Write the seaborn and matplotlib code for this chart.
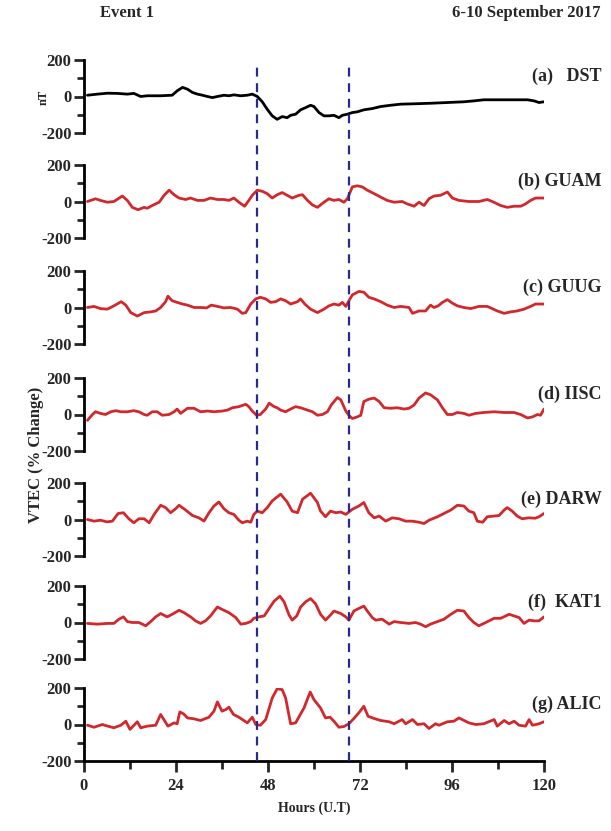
import numpy as np
import pandas as pd
import matplotlib
matplotlib.use("Agg")
import matplotlib.pyplot as plt
import seaborn as sns

# ---------------- data ----------------
dst_h = [0.9, 3.5, 6.1, 8.7, 11.3, 13, 14.8, 16.5, 20, 23, 24.3, 25.7, 27, 28.3, 29.6, 30.9, 32.2, 33.5,
         34.8, 36.5, 37.8, 39.1, 40.9, 42.6, 43.9, 45.2, 46.5, 47.8, 49.1, 50.4, 51.7, 53, 53.9, 55.2,
         56.5, 57.8, 59.1, 60, 61.3, 62.6, 63.9, 65.2, 66.5, 67.4, 68.7, 70, 71.3, 73, 75.2, 77.4, 80,
         82.6, 86.1, 90.4, 94.8, 99.1, 101.7, 104.3, 107.8, 112.2, 115.7, 117.4, 118.7, 120]
dst_v = [7, 13, 18, 17, 13, 17, 0, 4, 4, 7, 31, 50, 40, 22, 13, 7, 0, -6,
         0, 7, 4, 9, 4, 7, 13, 0, -29, -70, -106, -125, -110, -116, -103, -97,
         -73, -61, -48, -55, -88, -106, -106, -103, -116, -103, -97, -88, -84, -73, -66, -55, -48,
         -42, -40, -37, -33, -29, -24, -18, -18, -18, -18, -24, -33, -29]

guam_h = [0.9, 3, 4.3, 6.1, 7.8, 10, 11.3, 12.6, 14.1, 15.7, 16.5, 17.8, 19.6, 20.9, 22.2, 23.5, 24.8,
          26.5, 27.8, 29.6, 31.3, 33, 34.8, 36.5, 37.8, 39.1, 40.4, 41.9, 43, 43.9, 45.2, 46.5, 47.8,
          49.1, 50.4, 51.7, 53, 54.3, 56.1, 57, 58.3, 59.6, 60.9, 62.6, 63.9, 65.2, 66.5, 67.8, 68.7,
          70, 71.3, 72.6, 73.9, 75.7, 77.4, 79.1, 80.9, 83, 84.3, 86.1, 87.4, 88.7, 90, 91.3, 93, 94.8,
          96.1, 97.8, 100.4, 103, 105.2, 106.5, 108.7, 110.4, 112.2, 113.9, 115.2, 116.5, 117.8, 120]
guam_v = [0, 15, 6, -4, 0, 30, 6, -32, -45, -32, -37, -22, -4, 34, 62, 37, 19,
          11, 19, 6, 6, 19, 11, 11, 6, 19, -4, -26, 6, 34, 62, 56, 43,
          19, 37, 49, 34, 19, 34, 37, 6, -19, -32, -4, 15, 6, 11, -4, 15,
          80, 86, 80, 62, 43, 24, 6, -4, 0, -13, -26, -4, -22, 15, 30, 34, 52,
          19, 6, 0, 0, 11, 0, -22, -32, -26, -26, -13, 6, 19, 19]

guug_h = [0.9, 2.6, 4.3, 6.1, 7.8, 9.7, 10.9, 12.2, 13.9, 15.7, 17.4, 18.7, 20, 21.3, 21.9, 23, 24.3,
          25.7, 27, 28.7, 30.4, 32, 33.2, 34.8, 36.5, 38.3, 40, 41.3, 42.2, 43.5, 44.8, 46, 47.4, 48.7,
          50, 51.3, 52.6, 53.9, 55.7, 56.5, 57.6, 59.1, 60.9, 62.6, 63.9, 65.2, 66.5, 67.4, 68.3, 69.1,
          70, 71.7, 73, 74.3, 75.7, 77.4, 79.1, 80.9, 82.6, 84.8, 85.7, 87.4, 89.1, 90.4, 91.3, 92.4,
          93.5, 94.8, 96.1, 97.4, 99.1, 100.9, 103, 105.2, 106.5, 107.8, 109.6, 111.3, 113, 114.8,
          116.5, 117.8, 120]
guug_v = [0, 6, -6, -9, 9, 32, 13, -28, -47, -28, -24, -19, 0, 32, 62, 37, 28,
          19, 13, 0, 0, -2, 13, 6, -2, 0, -9, -32, -28, 19, 47, 56, 47, 28,
          32, 47, 37, 19, 32, 47, 19, -9, -28, -9, 9, 19, 13, 28, 6, 37,
          69, 88, 84, 56, 47, 32, 13, 0, 6, 0, -32, -19, -19, 13, 0, 9,
          28, 43, 24, 9, 0, -6, 6, 6, -6, -19, -32, -24, -19, -9,
          6, 19, 19]

iisc_h = [0.9, 2.2, 3, 4.3, 5.6, 7, 8.3, 9.6, 11.3, 13, 14.3, 15.7, 16.5, 17.8, 19.1, 20.4, 22.2,
          23.5, 24.3, 25.2, 27, 28.7, 30.4, 32.2, 33.9, 36.1, 37.4, 38.7, 40.4, 42.2, 43, 43.9, 45,
          46, 47.4, 48.3, 49.6, 50.4, 51.3, 52.6, 53.9, 55.2, 56.5, 58.3, 59.6, 60.9, 62.2, 63.5,
          64.5, 66.1, 67, 68.3, 69.1, 70, 71.3, 72.2, 73, 74.3, 75.7, 77, 78.3, 80, 81.7, 83.5, 84.8,
          86.1, 87.4, 89.1, 90.4, 92.2, 93.5, 94.8, 96.1, 97.4, 99.1, 100.4, 102.2, 104.3, 107,
          109.6, 112.2, 113.9, 115.7, 117, 118.3, 119.1, 120]
iisc_v = [-32, 0, 15, 6, 0, 15, 21, 15, 15, 21, 15, 0, -4, 15, 15, -4, 0,
          15, 30, 6, 34, 34, 15, 19, 15, 19, 24, 37, 43, 56, 43, 19, -4,
          0, 30, 62, 43, 37, 24, 15, 30, 43, 37, 24, 15, -4, 0, 15,
          52, 93, 80, 19, -4, -22, -13, -4, 71, 84, 90, 71, 37, 34, 37, 30, 34,
          52, 90, 118, 108, 80, 37, 0, 0, 11, 6, -4, 6, 11, 15,
          11, 11, 0, -19, -13, 0, -4, 30]

darw_h = [0.9, 2.6, 4.3, 6, 7.4, 8.9, 10.3, 11.7, 13, 14.3, 15.7, 17, 18.3, 20, 21.3, 22.6, 23.9,
          24.8, 26.5, 28.3, 30, 31.3, 32.6, 33.9, 35.2, 36.5, 37.8, 39.1, 40.4, 41.3, 42.6, 43.5,
          44.3, 45.2, 46.5, 47.8, 49.1, 51.3, 53, 54.3, 55.7, 57, 59.1, 60.9, 61.7, 63, 64.3, 65.7,
          67, 68.3, 69.1, 70, 71.7, 73, 74.3, 75.7, 77, 78.7, 80.4, 82.2, 83.9, 85.6, 87.4, 88.7, 90,
          92.2, 93.9, 95.7, 97.4, 99.1, 100.4, 101.7, 102.6, 104, 105.2, 107, 108.3, 109.6, 110.4,
          111.7, 113, 114.3, 116, 117.7, 118.7, 120]
darw_v = [0, -9, -4, -13, -9, 33, 37, 4, -18, 4, 4, -18, 28, 78, 65, 37, 59,
          78, 52, 22, 9, -9, 37, 74, 96, 59, 37, 28, -4, -18, -9, -15,
          28, 46, 37, 65, 102, 139, 96, 46, 37, 111, 144, 93, 46, 15, 46, 37,
          41, 28, 41, 56, 74, 93, 37, 9, 19, -9, 9, 4, -9, -9, -15, -22, -4,
          15, 33, 52, 78, 74, 46, 37, -9, -15, 15, 19, 22, 52, 65,
          46, 19, 4, 9, 7, 15, 33]

kat1_h = [0.9, 3.5, 6.1, 7.8, 9.1, 10.3, 11.3, 12.6, 14.3, 16.1, 17.4, 18.7, 20, 21.7, 23, 24.8,
          26.1, 27.8, 29.1, 30.4, 31.7, 33, 34.8, 36, 37.8, 39.6, 40.9, 42.2, 43.5, 44.3, 45.7, 47,
          48.3, 49.6, 51.1, 52.2, 53.5, 54.3, 55.5, 56.5, 57.8, 59.1, 60.4, 61.7, 63, 64.3, 65.2, 67,
          68.3, 69.1, 70.4, 71.7, 73, 73.9, 75.2, 76.1, 77.8, 79.6, 80.9, 82.6, 84.8, 86.5, 87.8,
          89.1, 90.4, 92.2, 93.9, 95.7, 97.4, 99.1, 100.4, 101.7, 103, 104.8, 107, 108.7, 110.9,
          112.2, 113.5, 114.8, 116.1, 117.4, 118.7, 120]
kat1_v = [-5, -9, -5, -5, 18, 31, 5, 0, 0, -18, 5, 31, 49, 31, 45, 67,
          54, 31, 9, -5, 9, 36, 85, 72, 54, 27, -9, -5, 5, 23, 31, 36,
          77, 117, 144, 113, 41, 13, 36, 85, 113, 131, 103, 45, 13, 41, 63, 49,
          31, 13, 63, 77, 90, 63, 27, 13, 18, -9, 5, 0, -5, 0, -9,
          -23, -9, 5, 18, 45, 67, 63, 27, 0, -18, 0, 23, 23, 45,
          36, 27, -5, 13, 9, 9, 31]

alic_h = [0.9, 2.6, 4.8, 5.7, 7.8, 9.6, 10.9, 12, 13.9, 14.8, 16.5, 18.7, 20, 21.9, 23.5, 24.3, 25,
          26, 27, 28.7, 30.4, 32.6, 33.9, 34.8, 36, 37, 37.8, 39, 40.4, 42.6, 43.9, 44.8, 46, 47.4,
          49.1, 50.4, 51.7, 52.6, 53.9, 55.2, 57.4, 59, 60, 61.7, 63, 64.2, 65.2, 66.5, 67.8, 69.1,
          70.4, 71.7, 73, 74.1, 75.7, 77.4, 79.6, 80.9, 83, 83.9, 85.7, 87, 88.7, 90, 91.7, 92.6,
          94.8, 96.5, 97.8, 100.4, 102.2, 104.3, 107, 107.8, 109.6, 110.9, 112.2, 113.5, 115.2,
          116.1, 117, 118.7, 120]
alic_v = [-4, -15, 0, -6, -18, -4, 18, -27, 15, -18, -9, -4, 55, -9, 9, 4, 69,
          58, 36, 31, 22, 40, 73, 124, 73, 82, 95, 55, 40, 9, 40, 0, -4, 27,
          145, 196, 191, 145, 4, 9, 91, 178, 136, 91, 36, 40, 18, -15, -11, 4,
          33, 64, 100, 45, 33, 22, 15, 4, 27, 4, 27, 0, 4, -22, 4, -4,
          15, 18, 36, 9, 0, 4, 27, -9, 22, 4, 18, -4, -9,
          27, -4, 4, 15]

panel_labels = ["(a)   DST", "(b) GUAM", "(c) GUUG", "(d) IISC", "(e) DARW", "(f)  KAT1", "(g) ALIC"]
series = [(dst_h, dst_v), (guam_h, guam_v), (guug_h, guug_v), (iisc_h, iisc_v),
          (darw_h, darw_v), (kat1_h, kat1_v), (alic_h, alic_v)]
event_hours = [45, 69]
x_ticks = [0, 24, 48, 72, 96, 120]
y_ticks = [-200, 0, 200]

# ---------------- style ----------------
sns.set_style("white")
plt.rcParams['font.family'] = ['Liberation Serif', 'DejaVu Serif']
plt.rcParams['font.weight'] = 'bold'

W, H = 611, 831
fig = plt.figure(figsize=(W / 100, H / 100), dpi=100)

left_px, right_px = 84, 544
tops = [60, 165, 271, 378, 483, 586, 688]
height_px = 73

axes = []
for i, (hx, hv) in enumerate(series):
    top = tops[i]
    ax = fig.add_axes([left_px / W, 1 - (top + height_px) / H, (right_px - left_px) / W, height_px / H])
    df = pd.DataFrame({"hour": hx, "value": hv})
    color = "black" if i == 0 else "#d0282c"
    sns.lineplot(data=df, x="hour", y="value", ax=ax, color=color, lw=2.0)
    ax.set_xlim(0, 120)
    ax.set_ylim(-200, 200)
    ax.set_yticks(y_ticks)
    ax.set_yticks([-100, 100], minor=True)
    ax.set_yticklabels([str(t) for t in y_ticks], fontsize=12, fontweight='bold')
    ax.tick_params(axis='y', which='major', direction='out', length=7, width=2, pad=2, left=True)
    ax.tick_params(axis='y', which='minor', direction='out', length=5, width=2, left=True)
    ax.set_xlabel("")
    ax.set_ylabel("")
    ax.patch.set_alpha(0)
    for s in ["top", "right"]:
        ax.spines[s].set_visible(False)
    ax.spines["left"].set_linewidth(2)
    ax.spines["left"].set_color("black")
    if i < 6:
        ax.spines["bottom"].set_visible(False)
        ax.set_xticks([])
    else:
        ax.spines["bottom"].set_linewidth(2)
        ax.spines["bottom"].set_color("black")
        ax.set_xticks(x_ticks)
        ax.set_xticks([12, 36, 60, 84, 108], minor=True)
        ax.set_xticklabels([str(t) for t in x_ticks], fontsize=12, fontweight='bold')
        ax.tick_params(axis='x', which='major', direction='out', length=8, width=2, pad=4, bottom=True)
        ax.tick_params(axis='x', which='minor', direction='out', length=6, width=2, bottom=True)
    ax.text(1.125, 110, panel_labels[i], transform=ax.get_yaxis_transform(), ha='right', va='center',
            fontsize=13, fontweight='bold')
    axes.append(ax)

axes[6].set_xlabel("Hours (U.T)", fontsize=10, fontweight='bold', labelpad=6)

# overlay axis for the dashed event lines
top_dash, bot_dash = 66, 761
ov = fig.add_axes([left_px / W, 1 - bot_dash / H, (right_px - left_px) / W, (bot_dash - top_dash) / H])
ov.set_xlim(0, 120)
ov.axis('off')
for h in event_hours:
    ov.axvline(h, color="#2a2a8a", lw=1.6, ls=(0, (4, 3)))

fig.text(44 / W, 1 - 97 / H, "nT", rotation=90, ha='center', va='center', fontsize=9, fontweight='bold')
fig.text(36 / W, 1 - 455 / H, "VTEC (% Change)", rotation=90, ha='center', va='center',
         fontsize=12, fontweight='bold')
fig.text(100 / W, 1 - 13 / H, "Event 1", ha='left', va='center', fontsize=12, fontweight='bold')
fig.text(601 / W, 1 - 13 / H, "6-10 September 2017", ha='right', va='center', fontsize=12, fontweight='bold')

fig.savefig("out.png", dpi=100)
